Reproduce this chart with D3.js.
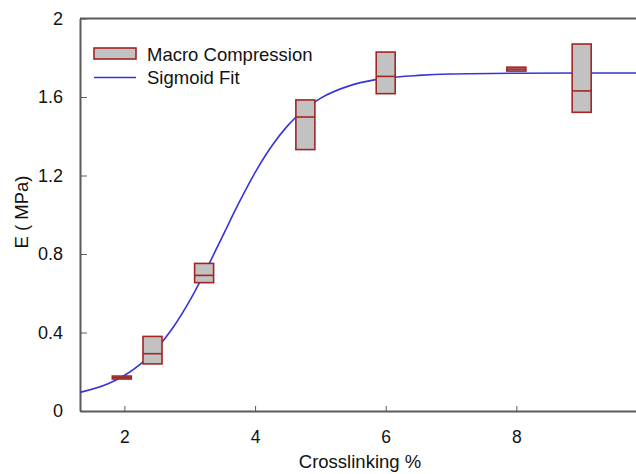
<!DOCTYPE html>
<html>
<head>
<meta charset="utf-8">
<script src="https://cdn.jsdelivr.net/npm/d3@7"></script>
<style>
  body { margin: 0; background: #fff; }
  text { font-family: "Liberation Sans", Arial, sans-serif; fill: #111; }
  .axis path, .axis line { stroke: #5a5a5a; }
</style>
</head>
<body>
<div id="chart"></div>
<script>
// box data
var boxX   = [1.96, 2.43, 3.22, 4.77, 6.0, 8.0, 9.0]
var boxLow = [0.163, 0.24, 0.654, 1.332, 1.617, 1.732, 1.522]
var boxMed = [0.17, 0.292, 0.691, 1.498, 1.705, 1.742, 1.631]
var boxHigh = [0.178, 0.38, 0.752, 1.585, 1.829, 1.752, 1.870]

// sigmoid fit curve
var fitX = [1.32, 1.75, 2.0, 2.25, 2.5, 2.75, 3.0, 3.25, 3.5, 3.75, 4.0, 4.25, 4.5, 4.75, 5.0, 5.5, 6.0, 6.5, 7.0, 8.0, 9.0, 10.0]
var fitY = [0.095, 0.139, 0.181, 0.240, 0.321, 0.428, 0.562, 0.719, 0.889, 1.059, 1.215, 1.348, 1.454, 1.535, 1.593, 1.663, 1.696, 1.710, 1.717, 1.721, 1.722, 1.722]

var xTicks = [2, 4, 6, 8]
var yTicks = [0, 0.4, 0.8, 1.2, 1.6, 2]
var legendLabels = ["Macro Compression", "Sigmoid Fit"]

var width = 636, height = 474

var svg = d3.select("#chart")
            .append("svg")
            .attr("width", width)
            .attr("height", height)

var x = d3.scaleLinear().domain([1.32, 10]).range([80, 647])
var y = d3.scaleLinear().domain([0, 2]).range([411, 18.5])

// top frame
svg.append("line")
    .attr("x1", 80).attr("x2", width)
    .attr("y1", y(2)).attr("y2", y(2))
    .attr("stroke", "#5a5a5a").attr("stroke-width", 2)

var xAxis = svg.append("g")
    .attr("class", "axis")
    .attr("transform", "translate(0," + y(0) + ")")
    .call(d3.axisBottom(x).tickValues(xTicks).tickSizeInner(-5).tickSizeOuter(0).tickPadding(20))
xAxis.select(".domain").attr("stroke-width", 2)
xAxis.selectAll("text").attr("font-size", 17.5).style("fill", "#111")

var yAxis = svg.append("g")
    .attr("class", "axis")
    .attr("transform", "translate(" + x(1.32) + ",0)")
    .call(d3.axisLeft(y).tickValues(yTicks).tickFormat(d3.format("")).tickSizeInner(-7).tickSizeOuter(0).tickPadding(17))
yAxis.select(".domain").attr("stroke-width", 2)
yAxis.selectAll("text").attr("font-size", 18).style("fill", "#111")

// axis titles
svg.append("text")
    .attr("x", 360).attr("y", 468)
    .attr("text-anchor", "middle")
    .attr("font-size", 18.5)
    .text("Crosslinking %")

svg.append("text")
    .attr("transform", "translate(28,212) rotate(-90)")
    .attr("text-anchor", "middle")
    .attr("font-size", 18.5)
    .text("E ( MPa)")

// fit curve
var fit = fitX.map(function(d, i) { return [d, fitY[i]] })
var line = d3.line()
    .x(function(d) { return x(d[0]) })
    .y(function(d) { return y(d[1]) })
    .curve(d3.curveMonotoneX)

svg.append("path")
    .datum(fit)
    .attr("d", line)
    .attr("fill", "none")
    .attr("stroke", "#3434dc")
    .attr("stroke-width", 1.6)

// boxes
var boxes = boxX.map(function(d, i) {
    return { x: d, low: boxLow[i], med: boxMed[i], high: boxHigh[i] }
})
var bw = 19

var g = svg.selectAll(".box")
    .data(boxes)
    .enter().append("g")
    .attr("class", "box")

g.append("rect")
    .attr("x", function(d) { return x(d.x) - bw / 2 })
    .attr("y", function(d) { return y(d.high) })
    .attr("width", bw)
    .attr("height", function(d) { return Math.max(y(d.low) - y(d.high), 1) })
    .attr("fill", "#c2c2c2")
    .attr("stroke", "#a32424")
    .attr("stroke-width", 1.6)

g.append("line")
    .attr("x1", function(d) { return x(d.x) - bw / 2 })
    .attr("x2", function(d) { return x(d.x) + bw / 2 })
    .attr("y1", function(d) { return y(d.med) })
    .attr("y2", function(d) { return y(d.med) })
    .attr("stroke", "#a32424")
    .attr("stroke-width", 1.6)

// legend
var legend = svg.append("g")
legend.append("rect")
    .attr("x", 94).attr("y", 48)
    .attr("width", 42).attr("height", 11)
    .attr("fill", "#c2c2c2")
    .attr("stroke", "#a32424")
    .attr("stroke-width", 1.6)
legend.append("line")
    .attr("x1", 94).attr("x2", 136)
    .attr("y1", 77.5).attr("y2", 77.5)
    .attr("stroke", "#3434dc")
    .attr("stroke-width", 1.6)
legend.selectAll(".lab")
    .data(legendLabels)
    .enter().append("text")
    .attr("class", "lab")
    .attr("x", 147)
    .attr("y", function(d, i) { return 61 + i * 22.5 })
    .attr("font-size", 18.5)
    .text(function(d) { return d })
</script>
</body>
</html>
